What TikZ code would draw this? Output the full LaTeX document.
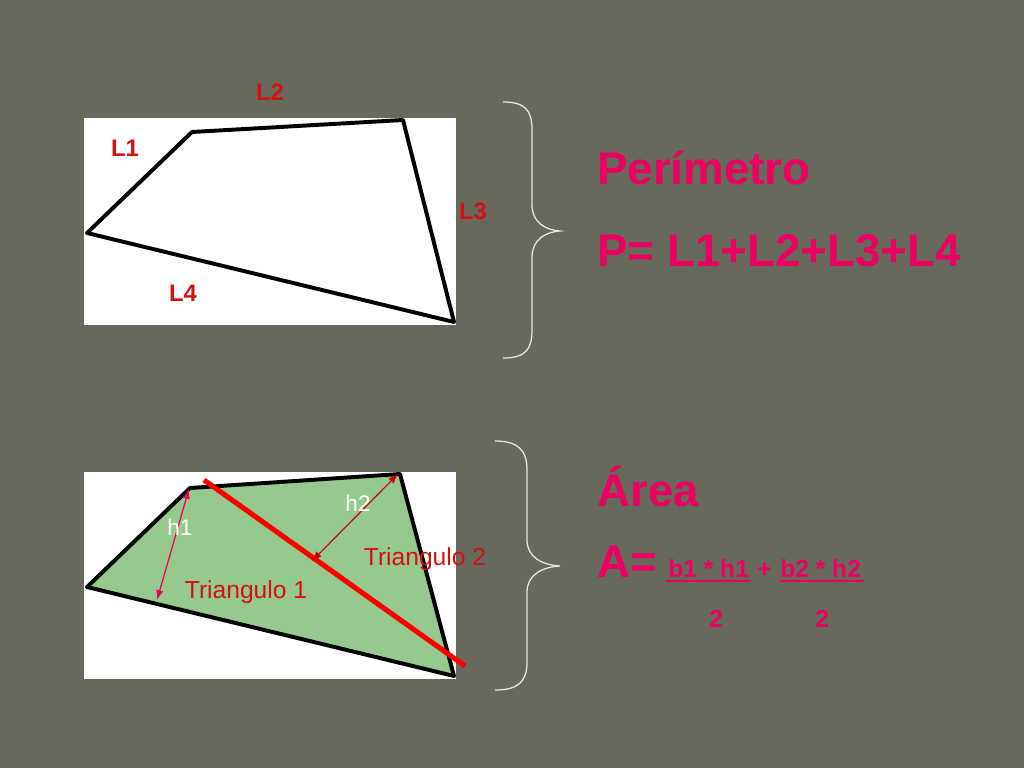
\documentclass[tikz,border=0pt]{standalone}
\usepackage{fontspec}
\setmainfont{Liberation Sans}
\usepackage{tikz}
\usetikzlibrary{positioning, arrows.meta}

\definecolor{slate}{RGB}{103,105,93}
\definecolor{leaf}{RGB}{150,201,141}
\definecolor{rose}{RGB}{236,0,96}
\definecolor{redtxt}{RGB}{214,16,16}

\tikzset{
  side/.style={font=\bfseries\fontsize{17}{20}\selectfont, text=redtxt},
  title/.style={font=\bfseries\fontsize{32.5}{38}\selectfont, text=rose, anchor=base west, inner sep=0pt},
  small/.style={font=\bfseries\fontsize{17.5}{20}\selectfont, text=rose, anchor=base west, inner sep=0pt},
  trilab/.style={font=\fontsize{17.5}{20}\selectfont, text=redtxt},
  hlab/.style={font=\fontsize{16}{19}\selectfont, text=white},
  edge/.style={draw=black, line width=2.8pt, line join=round},
  brace/.style={draw=white!85!slate, line width=0.9pt},
}

\begin{document}
\begin{tikzpicture}[x=0.025cm, y=-0.025cm]
  \fill [slate] (0,0) rectangle (1024,768);            % background
  \useasboundingbox (0,0) rectangle (1024,768);

  % perimeter figure
  \fill [white] (84,118) rectangle (456,325);          % picture frame
  \coordinate (a) at (87,233);
  \coordinate (b) at (192,132);
  \coordinate (c) at (403,120);
  \coordinate (d) at (454,322);
  \draw [edge] (a) -- (b) -- (c) -- (d) -- cycle;      % quadrilateral
  \node [side] (l2) at (270,92)  {L2};
  \node [side] (l1) at (125,148) {L1};
  \node [side] (l3) at (473,211) {L3};
  \node [side] (l4) at (183,293) {L4};

  % perimeter brace and formula
  \draw [brace] (503,102) .. controls (525,102) and (532,110) .. (532,130) -- (532,205)
     .. controls (532,222) and (545,230) .. (560,231) .. controls (545,232) and (532,240) .. (532,257)
     -- (532,330) .. controls (532,350) and (525,358) .. (503,358);
  \node [title] (per) at (597,184) {Perímetro};
  \node [title] (pf)  at (597,266) {P= L1+L2+L3+L4};

  % area figure
  \fill [white] (84,472) rectangle (456,679);          % picture frame
  \coordinate (e) at (87,587);
  \coordinate (f) at (190,488);
  \coordinate (g) at (400,474);
  \coordinate (k) at (454,676);
  \draw [edge, fill=leaf] (e) -- (f) -- (g) -- (k) -- cycle;
  \coordinate (cut1) at (204,480);
  \coordinate (cut2) at (465,666);
  \draw [red, line width=3.6pt] (cut1) -- (cut2);     % diagonal
  \coordinate (h1top) at (189,489);
  \coordinate (h1bot) at (157,600);
  \draw [rose, line width=0.9pt, {Latex[length=7pt]}-{Latex[length=7pt]}] (h1top) -- (h1bot);
  \coordinate (h2top) at (398,474);
  \coordinate (h2bot) at (312,561);
  \draw [red!80!black, line width=0.8pt, {Latex[length=7pt]}-{Latex[length=7pt]}] (h2top) -- (h2bot);
  \node [hlab] (h1) at (180,527) {h1};
  \node [hlab] (h2) at (358,503) {h2};
  \node [trilab] (t1) at (246,592) {Triangulo 1};
  \node [trilab] (t2) at (425,559) {Triangulo 2};

  % area brace and formula
  \draw [brace] (495,441) .. controls (518,441) and (527,450) .. (527,470) -- (527,540)
     .. controls (527,557) and (542,565) .. (560,566) .. controls (542,567) and (527,575) .. (527,592)
     -- (527,662) .. controls (527,682) and (518,690) .. (495,690);
  \node [title] (ar) at (597,506) {Área};
  \node [title] (af) at (597,577) {A=};
  \node [small] (n1) at (668,577) {b1 * h1};
  \node [small] (pl) at (757,577) {+};
  \node [small] (n2) at (780,577) {b2 * h2};
  \draw [rose, line width=1.8pt] (666,581) -- (751,581);
  \draw [rose, line width=1.8pt] (780,581) -- (864,581);
  \node [small] (d1) at (709,627) {2};
  \node [small] (d2) at (815,627) {2};
\end{tikzpicture}
\end{document}
